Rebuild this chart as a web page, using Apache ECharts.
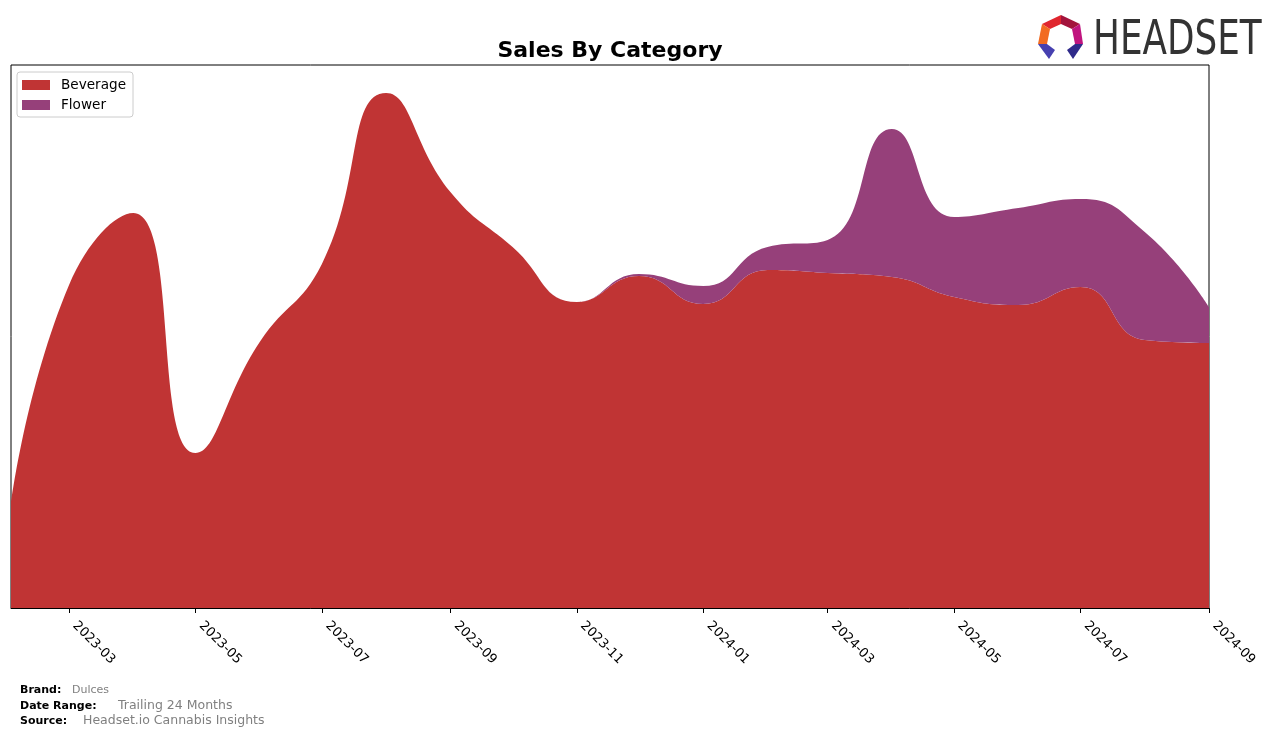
<!DOCTYPE html>
<html>
<head>
<meta charset="utf-8">
<script src="https://cdn.jsdelivr.net/npm/echarts@6/dist/echarts.min.js"></script>
<style>
html,body{margin:0;padding:0;background:#fff;}
#chart{width:1276px;height:738px;}
</style>
</head>
<body>
<div id="chart"></div>
<script>
// Data (monthly, relative sales units)
const months = ['2023-02-01','2023-03-01','2023-04-01','2023-05-01','2023-06-01','2023-07-01','2023-08-01','2023-09-01','2023-10-01','2023-11-01','2023-12-01','2024-01-01','2024-02-01','2024-03-01','2024-04-01','2024-05-01','2024-06-01','2024-07-01','2024-08-01','2024-09-01'];
const beverage = [105, 323, 395, 155, 266, 344, 515, 416, 361, 306, 332, 304, 338, 335, 331, 311, 303, 321, 268, 265];
const flower   = [0, 0, 0, 0, 0, 0, 0, 0, 0, 0, 2, 18, 23, 33, 148, 80, 97, 88, 108, 36];
const seriesNames = ['Beverage', 'Flower'];
const colors = ['#c03434', '#96407a'];

const chart = echarts.init(document.getElementById('chart'), null, {renderer: 'canvas'});
const FONT = 'DejaVu Sans';

function pairs(vals){ return months.map((m,i)=>[m, vals[i]]); }

const option = {
  animation: false,
  backgroundColor: '#fff',
  title: {
    text: 'Sales By Category',
    left: 610, top: 40, textAlign: 'center', padding: 0,
    textStyle: {fontFamily: FONT, fontSize: 22, fontWeight: 'bold', color: '#000'}
  },
  legend: {
    orient: 'vertical', left: 17, top: 72,
    padding: [6, 7, 5, 5], itemGap: 6,
    itemWidth: 28, itemHeight: 10,
    borderColor: '#cccccc', borderWidth: 1, borderRadius: 3,
    icon: 'rect',
    textStyle: {fontFamily: FONT, fontSize: 13.6, color: '#000', padding: [0,0,0,6]},
    data: seriesNames
  },
  grid: {left: 11, top: 65, right: 67, bottom: 130, show: true, borderColor: '#000', borderWidth: 1, backgroundColor: 'transparent'},
  xAxis: {
    type: 'time',
    min: '2023-02-01', max: '2024-09-01',
    minInterval: 58*86400000, maxInterval: 62*86400000,
    axisLine: {show: true, lineStyle: {color: '#000', width: 1}},
    axisTick: {show: true, length: 5, lineStyle: {color: '#000'}},
    minorTick: {show: false},
    splitLine: {show: false},
    axisLabel: {
      formatter: '{yyyy}-{MM}', rotate: -45, margin: 10,
      padding: [0, 0, 0, 8],
      fontFamily: FONT, fontSize: 13, color: '#000',
      showMinLabel: false, showMaxLabel: true, hideOverlap: false
    }
  },
  yAxis: {
    type: 'value', min: 0, max: 543,
    show: false, splitLine: {show: false}
  },
  series: [
    {
      name: seriesNames[0], type: 'line', stack: 'total', smooth: 0.5,
      symbol: 'none', data: pairs(beverage),
      itemStyle: {color: colors[0]},
      lineStyle: {width: 0},
      areaStyle: {color: colors[0], opacity: 1}
    },
    {
      name: seriesNames[1], type: 'line', stack: 'total', smooth: 0.5,
      symbol: 'none', data: pairs(flower),
      itemStyle: {color: colors[1]},
      lineStyle: {width: 0},
      areaStyle: {color: colors[1], opacity: 1}
    }
  ],
  graphic: [
    // footer
    {type:'text', left: 20, top: 685, style:{text:'Brand:', font:'bold 11px "DejaVu Sans"', fill:'#000'}},
    {type:'text', left: 72, top: 685, style:{text:'Dulces', font:'11px "DejaVu Sans"', fill:'#808080'}},
    {type:'text', left: 20, top: 701, style:{text:'Date Range:', font:'bold 11px "DejaVu Sans"', fill:'#000'}},
    {type:'text', left: 118, top: 699, style:{text:'Trailing 24 Months', font:'12.5px "DejaVu Sans"', fill:'#808080'}},
    {type:'text', left: 20, top: 716, style:{text:'Source:', font:'bold 11px "DejaVu Sans"', fill:'#000'}},
    {type:'text', left: 83, top: 714, style:{text:'Headset.io Cannabis Insights', font:'12.5px "DejaVu Sans"', fill:'#808080'}},
    // logo text
    {type:'text', x: 1093, y: 18, scaleX: 0.745, style:{text:'HEADSET', font:'48px "DejaVu Sans"', fill:'#333333'}},
    // logo icon
    {type:'polygon', shape:{points:[[1042,24],[1061,15],[1061,24],[1050,29]]}, style:{fill:'#e0262f'}},
    {type:'polygon', shape:{points:[[1061,15],[1080,24],[1072,29],[1061,24]]}, style:{fill:'#a3143c'}},
    {type:'polygon', shape:{points:[[1080,24],[1083,44],[1075,44],[1072,29]]}, style:{fill:'#c0157f'}},
    {type:'polygon', shape:{points:[[1042,24],[1050,29],[1047,44],[1038,44]]}, style:{fill:'#f26b21'}},
    {type:'polygon', shape:{points:[[1038,44],[1047,44],[1055,50],[1049,59]]}, style:{fill:'#4640b0'}},
    {type:'polygon', shape:{points:[[1083,44],[1075,44],[1067,50],[1073,59]]}, style:{fill:'#2f2a8a'}}
  ]
};
chart.setOption(option);
</script>
</body>
</html>
